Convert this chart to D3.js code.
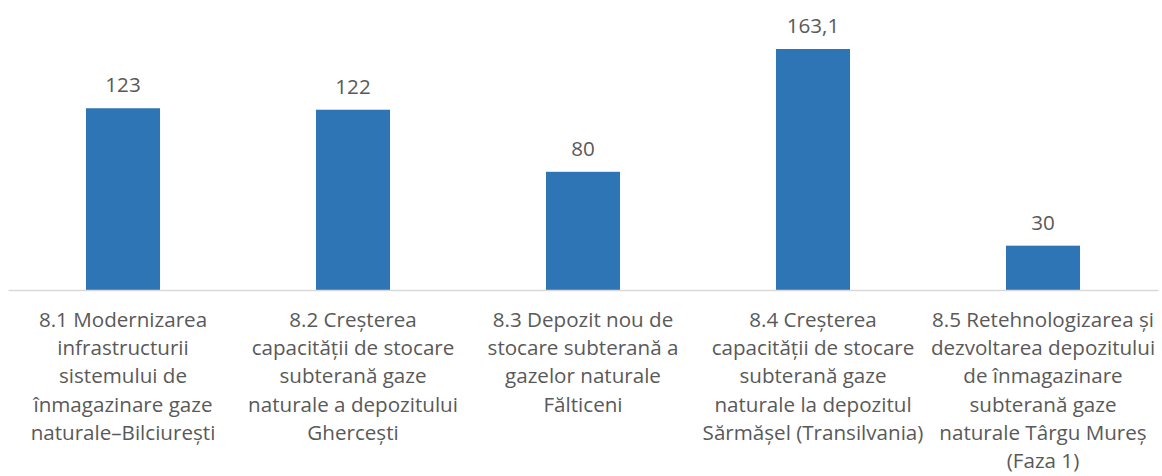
<!DOCTYPE html>
<html>
<head>
<meta charset="utf-8">
<script src="https://cdn.jsdelivr.net/npm/d3@7"></script>
<style>
  html, body { margin: 0; padding: 0; background: #fff; }
  svg { display: block; }
</style>
</head>
<body>
<svg id="chart" width="1162" height="476"></svg>
<script>
// Project categories, each split into the lines shown under the axis
const categories = [
  ["8.1 Modernizarea", "infrastructurii", "sistemului de", "înmagazinare gaze", "naturale–Bilciurești"],
  ["8.2 Creșterea", "capacității de stocare", "subterană gaze", "naturale a depozitului", "Ghercești"],
  ["8.3 Depozit nou de", "stocare subterană a", "gazelor naturale", "Fălticeni"],
  ["8.4 Creșterea", "capacității de stocare", "subterană gaze", "naturale la depozitul", "Sărmășel (Transilvania)"],
  ["8.5 Retehnologizarea și", "dezvoltarea depozitului", "de înmagazinare", "subterană gaze", "naturale Târgu Mureș", "(Faza 1)"]
];
const values = [123, 122, 80, 163.1, 30];
const valueLabels = ["123", "122", "80", "163,1", "30"];

const svg = d3.select("#chart");
const fontFamily = "'Open Sans', sans-serif";
const textColor = "#595959";
const fontSize = 20.6;

const x = d3.scaleBand()
  .domain(d3.range(categories.length))
  .range([8, 1158])
  .paddingInner(0.678)
  .paddingOuter(0.339);

const y = d3.scaleLinear()
  .domain([0, 163.1])
  .range([290, 49]);

// Bars
svg.append("g")
  .selectAll("rect")
  .data(values)
  .join("rect")
  .attr("x", (d, i) => x(i))
  .attr("y", d => y(d))
  .attr("width", x.bandwidth())
  .attr("height", d => y(0) - y(d))
  .attr("fill", "#2E75B6");

// Baseline axis
const axis = svg.append("g")
  .attr("transform", `translate(0,${y(0)})`)
  .call(d3.axisBottom(x).tickSize(0).tickFormat(""));
axis.select(".domain").attr("stroke", "#d9d9d9").attr("stroke-width", 1.5);

// Value labels above bars
svg.append("g")
  .selectAll("text")
  .data(values)
  .join("text")
  .attr("x", (d, i) => x(i) + x.bandwidth() / 2)
  .attr("y", d => y(d) - 16)
  .attr("text-anchor", "middle")
  .attr("font-family", fontFamily)
  .attr("font-size", fontSize)
  .attr("fill", textColor)
  .text((d, i) => valueLabels[i]);

// Category labels
const lineHeight = 28.2;
const catText = svg.append("g")
  .selectAll("text")
  .data(categories)
  .join("text")
  .attr("text-anchor", "middle")
  .attr("font-family", fontFamily)
  .attr("font-size", fontSize)
  .attr("fill", textColor);

catText.selectAll("tspan")
  .data((lines, i) => lines.map(l => ({ l, i })))
  .join("tspan")
  .attr("x", d => x(d.i) + x.bandwidth() / 2)
  .attr("y", (d, j) => 327 + j * lineHeight)
  .text(d => d.l);
</script>
</body>
</html>
